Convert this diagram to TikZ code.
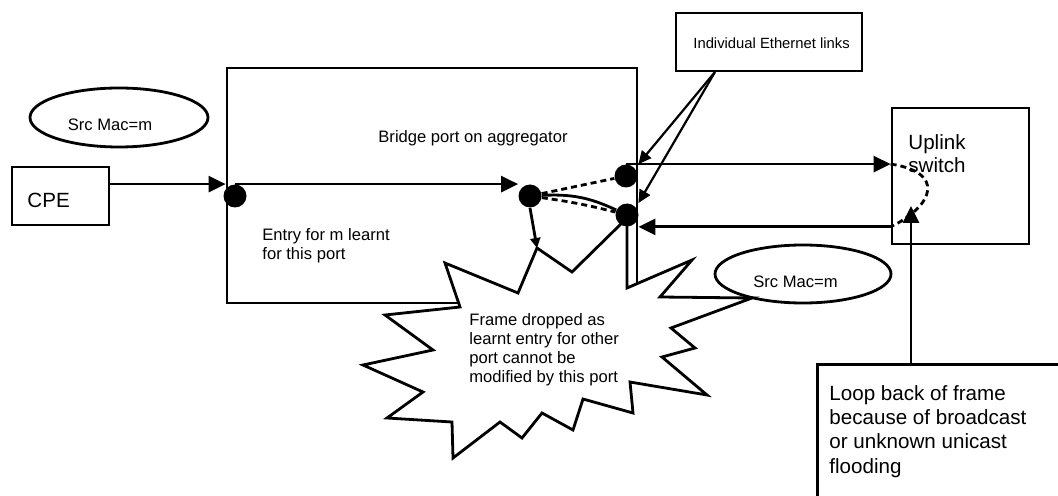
\documentclass[tikz,border=0pt]{standalone}
\usepackage{fontspec}
\setmainfont{Liberation Sans}
\usetikzlibrary{arrows.meta,calc,positioning,shapes.geometric}

\begin{document}
\begin{tikzpicture}[x=0.5pt,y=-0.5pt,
      box/.style={draw,line width=1.4pt,fill=white,inner sep=0pt},
      dot/.style={circle,fill=black,minimum size=11.5pt,inner sep=0pt},
      big/.style={font=\fontsize{10.3pt}{12pt}\selectfont,align=left,inner sep=0pt},
      small/.style={font=\fontsize{8.3pt}{9.3pt}\selectfont,align=left,inner sep=0pt},
      srcell/.style={ellipse,draw,line width=1.4pt,inner sep=0pt},
      arr/.style={-{Triangle[length=8.5pt,width=8pt]},line width=1.4pt},
      linkarr/.style={-{Triangle[length=6.5pt,width=6pt]},line width=1.1pt},
      dashline/.style={line width=1.4pt,dash pattern=on 3pt off 2pt}]
      \useasboundingbox (0,0) rectangle (1058,496);
      \clip (0,0) rectangle (1058,496);
      % boxes
      \node[box,minimum width=205pt,minimum height=117.5pt] (bridge) at (432,185.5) {};
      \node[box,minimum width=48.5pt,minimum height=29pt] (cpe) at (60.5,196) {};
      \node[box,line width=1.1pt,minimum width=93pt,minimum height=29pt] (links) at (769,42) {};
      \node[box,minimum width=68.5pt,minimum height=68pt] (up) at (960.5,176) {};
      \node[box,anchor=north west,minimum width=150pt,minimum height=80pt] (loop) at (816,363) {};
      % burst over the bridge port
      \coordinate (drop) at (537,248);
      \draw[box] (627,218) -- (627,288) -- (692,260) -- (660,297) -- (752,298) -- (671,328)
        -- (695,348) -- (662,357) -- (707,395) -- (630,382) -- (633,413) -- (583,399)
        -- (573,430) -- (542,413) -- (522,438) -- (500,422) -- (453,458) -- (452,422)
        -- (387,418) -- (423,392) -- (363,365) -- (433,350) -- (385,315) -- (460,307)
        -- (445,263) -- (518,293) -- (drop) -- (572,272) -- cycle;
      \node[srcell,minimum width=89pt,minimum height=29.5pt] (macL) at (119,117.5) {};
      \node[srcell,minimum width=88pt,minimum height=29pt] (macR) at (803,274) {};
      % texts
      \node[big,anchor=west] (cpetxt) at (27,200) {CPE};
      \node[small] (srcL) at (110,125) {Src Mac=m};
      \node[small] (srcR) at (795.5,282) {Src Mac=m};
      \node[small] (bridgetxt) at (473,138) {Bridge port on aggregator};
      \node[small,anchor=west] (entrytxt) at (262,246) {Entry for m learnt\\for this port};
      \node[small,anchor=west,font=\fontsize{8.3pt}{9.5pt}\selectfont] (droptxt) at (469,349.5)
        {Frame dropped as\\learnt entry for other\\port cannot be\\modified by this port};
      \node[small,anchor=west,font=\fontsize{7.4pt}{9pt}\selectfont] (linkstxt) at (693,43) {Individual Ethernet links};
      \node[big,anchor=west,font=\fontsize{10.3pt}{11.5pt}\selectfont] (uptxt) at (908,153.5) {Uplink\\switch};
      \node[big,anchor=west,font=\fontsize{10.3pt}{12.15pt}\selectfont] (looptxt) at (829,431.5)
        {Loop back of frame\\because of broadcast\\or unknown unicast\\flooding};
      % ports
      \node[dot] (D) at (235,196) {};
      \node[dot] (A) at (530,196) {};
      \node[dot] (B) at (626,176) {};
      \node[dot] (C) at (627,215) {};
      % connectors
      \draw[arr] (cpe.east |- D.north) -- (D.north -| bridge.west);
      \draw[arr] (D.north) -- (A.north -| A.west);
      \draw[dashline] (A) -- (B);
      \draw[line width=1.4pt] (A) to[bend left=14] (C);
      \draw[dashline] (A) to[bend left=3] (C);
      \draw[-{Triangle[length=5pt,width=5pt]},line width=1.4pt] (A.south) -- (drop);
      \draw[arr] (B.north) -- (B.north -| up.west);
      \draw[arr] (C.south -| up.west) -- (C.south -| bridge.east);
      \draw[dashline] (B.north -| up.west) .. controls (945,172) and (935,205) .. (C.south -| up.west);
      \coordinate (upin) at (911,206);
      \draw[arr] (loop.north -| upin) -- (upin);
      \coordinate (linkfoot) at ([xshift=20pt]links.south west);
      \draw[linkarr] (linkfoot) -- (bridge.east |- B.north);
      \draw[linkarr] (linkfoot) -- (bridge.east |- C.north);
    \end{tikzpicture}
\end{document}
